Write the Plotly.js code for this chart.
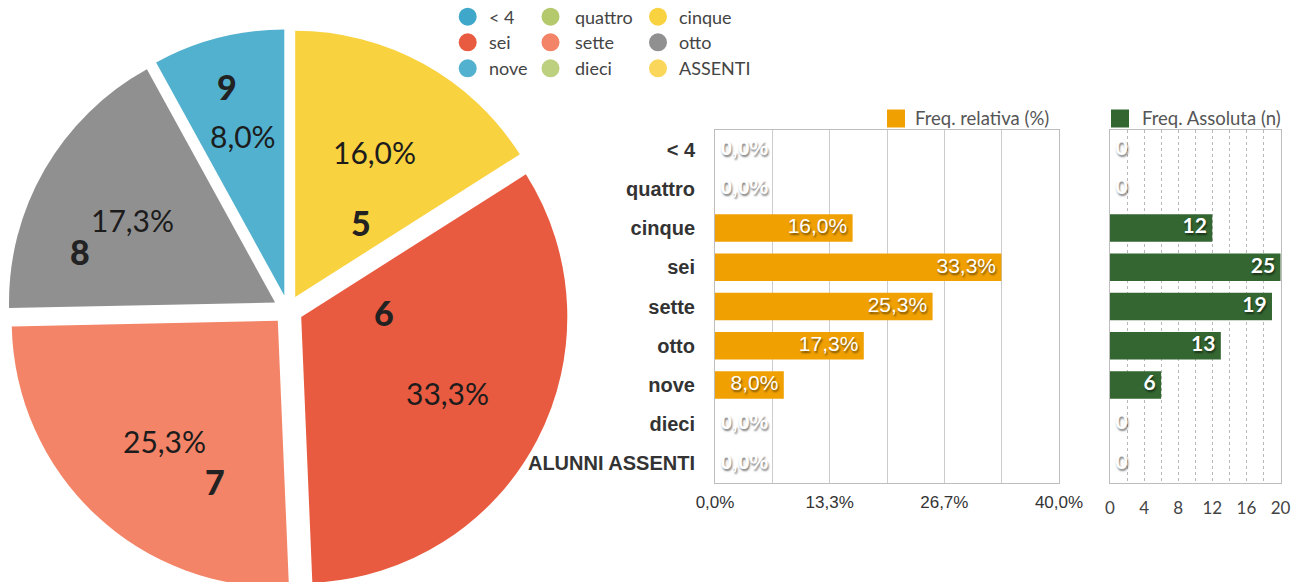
<!DOCTYPE html>
<html>
<head>
<meta charset="utf-8">
<script src="https://cdn.plot.ly/plotly-3.0.1.min.js"></script>
<style>
  html, body { margin: 0; padding: 0; background: #fff; }
  #frame { width: 1297px; height: 582px; overflow: hidden; position: relative; }
  #chart { width: 1297px; height: 600px; }
</style>
</head>
<body>
<div id="frame"><div id="chart"></div></div>
<script>
// ---------------- data ----------------
const categories = ['< 4', 'quattro', 'cinque', 'sei', 'sette', 'otto', 'nove', 'dieci', 'ALUNNI ASSENTI'];
const pieLabels = ['< 4', 'quattro', 'cinque', 'sei', 'sette', 'otto', 'nove', 'dieci', 'ASSENTI'];
const gradeDigits = ['', '', '5', '6', '7', '8', '9', '', ''];
const absFreq = [0, 0, 12, 25, 19, 13, 6, 0, 0];
const relFreq = [0, 0, 16.0, 33.3, 25.3, 17.3, 8.0, 0, 0];
const relLegendName = 'Freq. relativa (%)';
const absLegendName = 'Freq. Assoluta (n)';

// ---------------- styles ----------------
const sliceColors = ['#3FA8CA', '#B4C86C', '#F9D240', '#E95B40', '#F48467', '#909090', '#52B1CE', '#BDD07F', '#FAD65A'];
const relColor = '#F0A000';
const absColor = '#336631';
const relMax = 40, absMax = 20;

const W = 1297, H = 600;
const px = v => v / W;
const py = v => 1 - v / H;

// pie geometry (pixels)
const pieCx = 288, pieCy = 310, pieHalf = 281, pull = 0.056;
const pieR = pieHalf / (1 + pull);
const pctRadius = 0.62;               // percent label radius (fraction of r)
// digit label placement inside each slice: [fraction of slice angle, fraction of r]
const digitSpot = [null, null, [0.69, 0.43], [0.28, 0.36], [0.28, 0.70], [0.27, 0.81], [0.47, 0.87], null, null];

const fmtPct = v => v.toFixed(1).replace('.', ',') + '%';

const annotations = [];
const shapes = [];

// pie labels computed from slice angles
const total = absFreq.reduce((a, b) => a + b, 0);
let cum = 0;
absFreq.forEach((v, i) => {
  const a0 = cum / total * 360;
  cum += v;
  const a1 = cum / total * 360;
  if (v <= 0) return;
  const mid = (a0 + a1) / 2 * Math.PI / 180;
  const pullPx = pull * pieR;
  const pr = pullPx + pctRadius * pieR;
  annotations.push({
    xref: 'paper', yref: 'paper', showarrow: false,
    x: px(pieCx + pr * Math.sin(mid)), y: py(pieCy - pr * Math.cos(mid)),
    xanchor: 'center', yanchor: 'middle',
    text: fmtPct(relFreq[i]),
    font: { family: 'Lato, sans-serif', size: 30, color: '#1c1c1c' }
  });
  const spot = digitSpot[i];
  if (spot && gradeDigits[i]) {
    const ang = (a0 + spot[0] * (a1 - a0)) * Math.PI / 180;
    const dr = spot[1] * pieR;
    annotations.push({
      xref: 'paper', yref: 'paper', showarrow: false,
      x: px(pieCx + dr * Math.sin(ang)), y: py(pieCy - dr * Math.cos(ang)),
      xanchor: 'center', yanchor: 'middle',
      text: gradeDigits[i],
      font: { family: 'Lato, sans-serif', size: 34, color: '#222', weight: 900 }
    });
  }
});

// pie legend (3 columns, row-major)
const legCircleX = [467.7, 550.5, 658];
const legTextX = [487, 573, 677];
const legRowY = [16.7, 42.3, 68.3];
pieLabels.forEach((lab, i) => {
  const c = i % 3, r = Math.floor(i / 3);
  shapes.push({
    type: 'circle', xref: 'paper', yref: 'paper',
    xsizemode: 'pixel', ysizemode: 'pixel',
    xanchor: px(legCircleX[c]), yanchor: py(legRowY[r]),
    x0: -9, x1: 9, y0: -9, y1: 9,
    fillcolor: sliceColors[i], line: { width: 0 }
  });
  annotations.push({
    xref: 'paper', yref: 'paper', showarrow: false,
    x: px(legTextX[c]), y: py(legRowY[r]), xanchor: 'left', yanchor: 'middle',
    text: lab, font: { family: 'Lato, sans-serif', size: 18, color: '#444' }
  });
});

// bar legends
[[896, 913, relColor, relLegendName], [1120, 1140, absColor, absLegendName]].forEach(([sx, tx, col, name]) => {
  shapes.push({
    type: 'rect', xref: 'paper', yref: 'paper',
    xsizemode: 'pixel', ysizemode: 'pixel',
    xanchor: px(sx), yanchor: py(118.5),
    x0: -9, x1: 9, y0: -9, y1: 9,
    fillcolor: col, line: { width: 0 }
  });
  annotations.push({
    xref: 'paper', yref: 'paper', showarrow: false,
    x: px(tx), y: py(118), xanchor: 'left', yanchor: 'middle',
    text: name, font: { family: 'Lato, sans-serif', size: 18.5, color: '#555' }
  });
});

const shadow = '1px 2px 2px rgba(0,0,0,0.5)';
const zeroShadow = '1px 2px 3px rgba(0,0,0,0.6)';

const pie = {
  type: 'pie',
  labels: pieLabels,
  values: absFreq,
  sort: false,
  direction: 'clockwise',
  rotation: 0,
  pull: pull,
  marker: { colors: sliceColors, line: { width: 0 } },
  textinfo: 'none',
  hoverinfo: 'label+percent',
  showlegend: false,
  domain: { x: [px(pieCx - pieHalf), px(pieCx + pieHalf)], y: [py(pieCy + pieHalf), py(pieCy - pieHalf)] }
};

const relBar = {
  type: 'bar', orientation: 'h',
  y: categories, x: relFreq,
  xaxis: 'x', yaxis: 'y',
  width: 0.7,
  marker: { color: relColor },
  textposition: 'none',
  showlegend: false,
  hoverinfo: 'y+x'
};

const absBar = {
  type: 'bar', orientation: 'h',
  y: categories, x: absFreq,
  xaxis: 'x2', yaxis: 'y2',
  width: 0.7,
  marker: { color: absColor },
  textposition: 'none',
  showlegend: false,
  hoverinfo: 'y+x'
};

// value labels: at the bar end (inside), or just after the axis for empty rows
const relLabels = {
  type: 'scatter', mode: 'markers+text',
  y: categories, x: relFreq.map(v => Math.min(v, relMax)),
  xaxis: 'x', yaxis: 'y',
  text: relFreq.map(fmtPct),
  textposition: relFreq.map(v => v > 0 ? 'middle left' : 'middle right'),
  marker: { size: 7, opacity: 0 },
  textfont: {
    family: 'Liberation Sans, Arial, sans-serif', size: 21, color: '#fff',
    weight: relFreq.map(v => v > 0 ? 'normal' : 'bold'),
    shadow: shadow
  },
  cliponaxis: false, showlegend: false, hoverinfo: 'skip'
};

const absLabels = {
  type: 'scatter', mode: 'markers+text',
  y: categories, x: absFreq.map(v => Math.min(v, absMax)),
  xaxis: 'x2', yaxis: 'y2',
  text: absFreq.map(String),
  textposition: absFreq.map(v => v > 0 ? 'middle left' : 'middle right'),
  marker: { size: 7, opacity: 0 },
  textfont: { family: 'Lato, sans-serif', size: 21, color: '#fff', weight: 'bold', shadow: shadow },
  cliponaxis: false, showlegend: false, hoverinfo: 'skip'
};

const yDomain = [py(483), py(130)];

const layout = {
  width: W, height: H,
  margin: { l: 0, r: 0, t: 0, b: 0, pad: 0 },
  paper_bgcolor: '#fff', plot_bgcolor: '#fff',
  separators: ',.',
  showlegend: false,
  font: { family: 'Lato, sans-serif' },
  xaxis: {
    domain: [px(715), px(1059)],
    anchor: 'y',
    range: [0, relMax],
    tick0: 0, dtick: relMax / 3,
    tickformat: '.1f', ticksuffix: '%',
    showgrid: true, gridcolor: '#cccccc', gridwidth: 1,
    minor: { tick0: 0, dtick: relMax / 6, showgrid: true, gridcolor: '#cccccc', gridwidth: 1 },
    zeroline: false,
    showline: true, mirror: true, linecolor: '#bdbdbd', linewidth: 1,
    ticks: '', ticklabelstandoff: 4,
    tickfont: { family: 'Liberation Sans, Arial, sans-serif', size: 17, color: '#333' },
    fixedrange: true
  },
  yaxis: {
    domain: yDomain,
    anchor: 'x',
    type: 'category',
    categoryorder: 'array', categoryarray: categories,
    range: [8.5, -0.5],
    showgrid: false, zeroline: false,
    showline: true, mirror: true, linecolor: '#bdbdbd', linewidth: 1,
    ticks: '', ticklabelstandoff: 15,
    tickfont: { family: 'Liberation Sans, Arial, sans-serif', size: 20, color: '#333', weight: 'bold' },
    fixedrange: true
  },
  xaxis2: {
    domain: [px(1110), px(1280.5)],
    anchor: 'y2',
    range: [0, absMax],
    tick0: 0, dtick: 4,
    showgrid: true, gridcolor: '#b8b8b8', gridwidth: 1, griddash: 'dot',
    minor: { tick0: 0, dtick: 2, showgrid: true, gridcolor: '#b8b8b8', gridwidth: 1, griddash: 'dot' },
    zeroline: false,
    showline: true, mirror: true, linecolor: '#bdbdbd', linewidth: 1,
    ticks: '', ticklabelstandoff: 10,
    tickfont: { family: 'Lato, sans-serif', size: 17, color: '#444' },
    fixedrange: true
  },
  yaxis2: {
    domain: yDomain,
    anchor: 'x2',
    type: 'category',
    categoryorder: 'array', categoryarray: categories,
    range: [8.5, -0.5],
    showgrid: false, zeroline: false,
    showline: true, mirror: true, linecolor: '#bdbdbd', linewidth: 1,
    showticklabels: false, ticks: '',
    fixedrange: true
  },
  shapes: shapes,
  annotations: annotations
};

Plotly.newPlot('chart', [pie, relBar, absBar, relLabels, absLabels], layout, { displayModeBar: false, staticPlot: true });
</script>
</body>
</html>
